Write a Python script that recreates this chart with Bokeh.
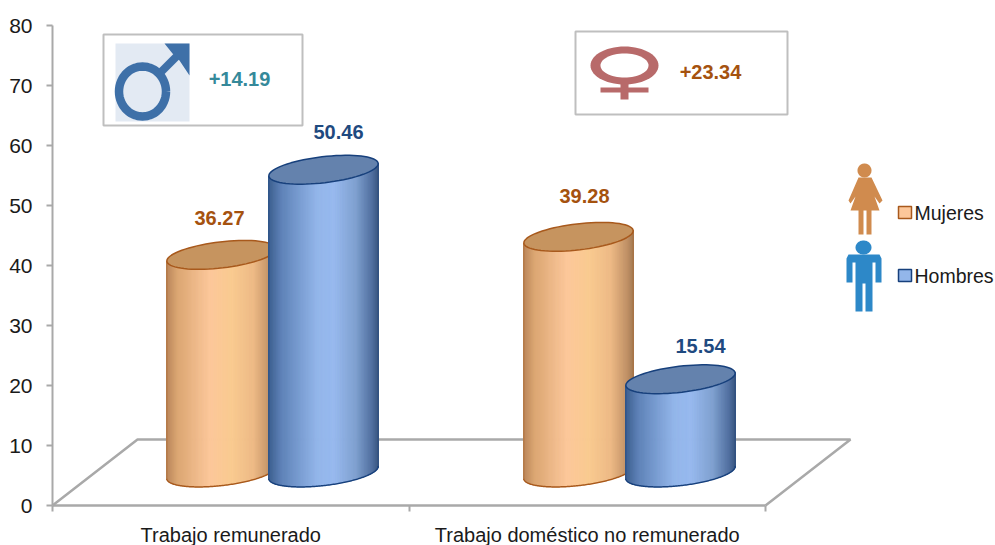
import math
from bokeh.plotting import figure
from bokeh.models import LinearAxis, FixedTicker
from bokeh.core.properties import value
from bokeh.embed import file_html
from bokeh.resources import INLINE

# ---- data
categories = ["Trabajo remunerado", "Trabajo doméstico no remunerado"]
mujeres = [36.27, 39.28]
hombres = [50.46, 15.54]
diff_labels = ["+14.19", "+23.34"]
y_ticks = [0, 10, 20, 30, 40, 50, 60, 70, 80]
legend_labels = ["Mujeres", "Hombres"]

# ---- layout (picture pixels -> chart units)
PX_X, PX_Y = 356.5, 6.0
X0, Y0 = 52, 505
def X(px): return (px - X0) / PX_X
def Y(py): return (Y0 - py) / PX_Y
FONT = "Liberation Sans"
GREY = "#a9a9a9"
W, H = 995, 545

p = figure(width=W, height=H, output_backend="svg", toolbar_location=None,
           x_range=(X(0), X(W)), y_range=(Y(H), Y(0)),
           x_axis_type=None, y_axis_type=None, min_border=0,
           background_fill_color="white", border_fill_color="white")
p.outline_line_color = None
p.grid.visible = False

# floor
fl = [(52, 505), (137, 439), (850, 439), (765, 505)]
p.line([X(a) for a, _ in fl], [Y(b) for _, b in fl], line_color=GREY, line_width=2.5)

# axes
yax = LinearAxis(fixed_location=0, ticker=FixedTicker(ticks=y_ticks), bounds=(0, 80))
yax.axis_line_color = GREY
yax.axis_line_width = 2
yax.major_tick_line_color = GREY
yax.major_tick_line_width = 2
yax.major_tick_out = 6
yax.major_tick_in = 0
yax.minor_tick_out = 0
yax.minor_tick_in = 0
yax.major_label_text_font = FONT
yax.major_label_text_font_size = "21px"
yax.major_label_text_color = "#1a1a1a"
yax.major_label_standoff = 14
p.add_layout(yax, "left")

xax = LinearAxis(fixed_location=0, bounds=(0, 2),
                 ticker=FixedTicker(ticks=[0.5, 1.5], minor_ticks=[0, 1, 2]))
xax.major_label_overrides = {0.5: categories[0], 1.5: categories[1]}
xax.axis_line_color = GREY
xax.axis_line_width = 2.5
xax.major_tick_out = 0
xax.major_tick_in = 0
xax.minor_tick_line_color = GREY
xax.minor_tick_line_width = 2
xax.minor_tick_out = 6
xax.minor_tick_in = 0
xax.major_label_text_font = FONT
xax.major_label_text_font_size = "20px"
xax.major_label_text_color = "#1a1a1a"
xax.major_label_standoff = 12
p.add_layout(xax, "below")

# cylinders
A, B, TH = 55.0, 13.0, math.radians(6.7)
BASE_PY = 472
def ell(cx, cy, t):
    return (cx + A * math.cos(t) * math.cos(TH) + B * math.sin(t) * math.sin(TH),
            cy - A * math.cos(t) * math.sin(TH) + B * math.sin(t) * math.cos(TH))

def lerp_color(stops, u):
    for (u0, c0), (u1, c1) in zip(stops, stops[1:]):
        if u <= u1:
            f = (u - u0) / (u1 - u0)
            rgb = [round(int(c0[i:i+2], 16) * (1 - f) + int(c1[i:i+2], 16) * f) for i in (1, 3, 5)]
            return "#%02x%02x%02x" % tuple(rgb)
    return stops[-1][1]

ORANGE = dict(stops=[(0, "#b9855a"), (.1, "#dba673"), (.4, "#fcc79a"), (.6, "#f9ca90"),
                     (.8, "#edb985"), (.95, "#c09166"), (1, "#a87e58")],
              top="#c6945f", line="#a8591c", text="#a5520f")
BLUE = dict(stops=[(0, "#3c5f90"), (.12, "#5f83b8"), (.45, "#93b6ea"), (.6, "#97b9ee"),
                   (.8, "#7fa0cf"), (.95, "#506f9f"), (1, "#3e5a85")],
            top="#6482ad", line="#17407c", text="#1f4a80")

def cylinder(cx, val, st):
    top_cy = BASE_PY - val * PX_Y
    N = 130
    low = [ell(cx, BASE_PY, math.pi * (N - i) / N) for i in range(N + 1)]  # left to right, lower edge
    left, right = low[0][0], low[-1][0]
    xs, ys, cols = [], [], []
    for (x0, y0), (x1, y1) in zip(low, low[1:]):
        t0 = top_cy - (x0 - cx) * math.tan(TH)
        t1 = top_cy - (x1 - cx) * math.tan(TH)
        xs.append([X(x0), X(x1), X(x1), X(x0)])
        ys.append([Y(y0), Y(y1), Y(t1), Y(t0)])
        cols.append(lerp_color(st["stops"], ((x0 + x1) / 2 - left) / (right - left)))
    p.patches(xs, ys, fill_color=cols, line_color=cols, line_width=1)
    p.line([X(a) for a, _ in low], [Y(b) for _, b in low], line_color=st["line"], line_width=1.5)
    for a, b in (low[0], low[-1]):
        p.line([X(a), X(a)], [Y(b), Y(top_cy - (a - cx) * math.tan(TH))],
               line_color=st["line"], line_width=0.8, line_alpha=0.5)
    ring = [ell(cx, top_cy, 2 * math.pi * i / 72) for i in range(73)]
    p.patch([X(a) for a, _ in ring], [Y(b) for _, b in ring], fill_color=st["top"],
            line_color=st["line"], line_width=1.5)

pairs = [(221, 323), (578, 680)]
lab_x_m = [219, 584]
lab_x_h = [338, 700]
lab_d_m = [37, 41]
lab_d_h = [38, 33]
for i in range(2):
    cylinder(pairs[i][0], mujeres[i], ORANGE)
    cylinder(pairs[i][1], hombres[i], BLUE)
    for v, lx, d, st in ((mujeres[i], lab_x_m[i], lab_d_m[i], ORANGE),
                         (hombres[i], lab_x_h[i], lab_d_h[i], BLUE)):
        p.text([X(lx)], [Y(BASE_PY - v * PX_Y - d)], text=["%.2f" % v],
               text_font=value(FONT), text_font_style="bold", text_font_size="20px",
               text_align="center", text_baseline="middle", text_color=st["text"])

# boxes
def box(l, t, r, b):
    p.patch([X(l), X(r), X(r), X(l)], [Y(t), Y(t), Y(b), Y(b)], fill_color="white",
            line_color="#bfbfbf", line_width=2)
box(103, 34, 302, 125)
box(575, 31, 787, 114)

def poly(pts, color):
    p.patch([X(a) for a, _ in pts], [Y(b) for _, b in pts], fill_color=color, line_color=None)

def oval(cx, cy, rx, ry):
    return [(cx + rx * math.cos(2 * math.pi * i / 60), cy + ry * math.sin(2 * math.pi * i / 60)) for i in range(61)]

# male symbol
MC = "#3e70a8"
poly([(115, 43), (189, 43), (189, 121), (115, 121)], "#e3eaf3")
c = oval(142, 91, 23.5, 25)
p.line([X(a) for a, _ in c], [Y(b) for _, b in c], line_color=MC, line_width=8.5)
p.line([X(160), X(180)], [Y(72), Y(52)], line_color=MC, line_width=8)
poly([(164, 43), (189, 43), (189, 75), (179, 60), (172, 53)], MC)
p.text([X(239)], [Y(78)], text=[diff_labels[0]], text_font=value(FONT), text_font_style="bold",
       text_font_size="20px", text_align="center", text_baseline="middle", text_color="#35899a")

# female symbol
FC = "#b86a6a"
poly(oval(624, 65, 34, 19), FC)
poly(oval(624, 65, 24, 12), "white")
poly([(620, 82), (628, 82), (628, 99), (620, 99)], FC)
poly([(600, 87), (648, 87), (648, 92), (600, 92)], FC)
p.text([X(710)], [Y(71)], text=[diff_labels[1]], text_font=value(FONT), text_font_style="bold",
       text_font_size="20px", text_align="center", text_baseline="middle", text_color="#a5520f")

# legend icons
WC = "#d08b4e"
poly(oval(864, 170, 7, 7), WC)
poly([(858, 177), (871, 177), (882, 200), (879, 203), (874, 196), (879, 210), (871, 210), (871, 234),
      (866, 234), (866, 210), (863, 210), (863, 234), (858, 234), (858, 210), (850, 210), (855, 196),
      (850, 203), (848, 200)], WC)
HC = "#2d88c8"
poly(oval(863, 247, 8, 7), HC)
poly([(848, 254), (879, 254), (881, 258), (881, 282), (875, 282), (875, 262), (872, 262), (872, 311),
      (865, 311), (865, 283), (862, 283), (862, 311), (855, 311), (855, 262), (852, 262), (852, 282),
      (846, 282), (846, 258)], HC)

# legend
for name, py, st, fill in ((legend_labels[0], 212, ORANGE, "#fcc79a"), (legend_labels[1], 275, BLUE, "#93b6ea")):
    p.patch([X(898), X(911), X(911), X(898)], [Y(py - 6), Y(py - 6), Y(py + 6), Y(py + 6)],
            fill_color=fill, line_color=st["line"], line_width=1.5)
    p.text([X(914)], [Y(py)], text=[name], text_font=value(FONT), text_font_size="19.5px",
           text_align="left", text_baseline="middle", text_color="#1a1a1a")

open("out.html", "w").write(file_html(p, INLINE))
